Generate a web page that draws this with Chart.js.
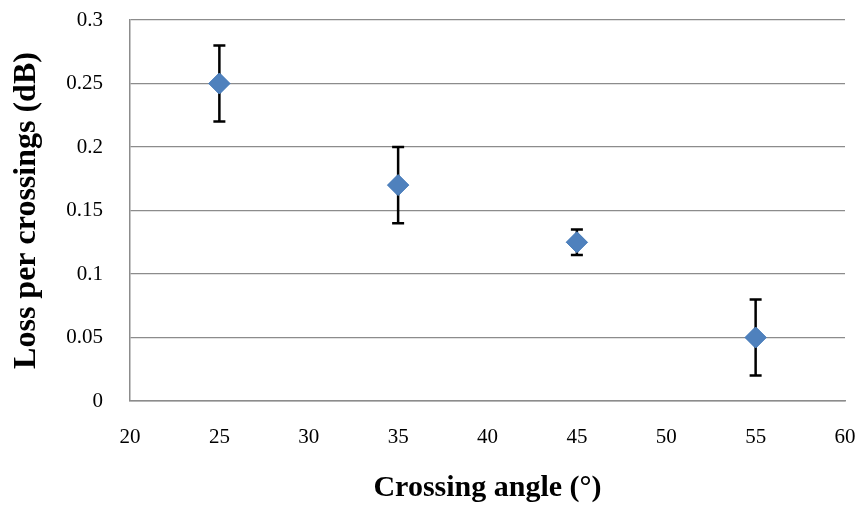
<!DOCTYPE html>
<html>
<head>
<meta charset="utf-8">
<script src="https://cdn.jsdelivr.net/npm/chart.js@4/dist/chart.umd.min.js"></script>
<style>
  html, body { margin: 0; padding: 0; background: #fff; }
  #wrap { width: 861px; height: 506px; }
</style>
</head>
<body>
<div id="wrap"><canvas id="chart"></canvas></div>
<script>
// crossing angle (deg) and loss per crossing (dB)
const angles = [25, 35, 45, 55];
const loss = [0.25, 0.17, 0.125, 0.05];
const errLow = [0.22, 0.14, 0.115, 0.02];
const errHigh = [0.28, 0.20, 0.135, 0.08];

// error bars drawn from the arrays through the chart scales
const errorBars = {
    id: 'errorBars',
    afterDatasetsDraw(chart) {
        const ctx = chart.ctx;
        const xs = chart.scales.x, ys = chart.scales.y;
        ctx.save();
        ctx.strokeStyle = '#000';
        ctx.lineWidth = 2.5;
        for (let i = 0; i < angles.length; i++) {
            const x = xs.getPixelForValue(angles[i]);
            const y1 = ys.getPixelForValue(errLow[i]);
            const y2 = ys.getPixelForValue(errHigh[i]);
            ctx.beginPath();
            ctx.moveTo(x, y1); ctx.lineTo(x, y2);
            ctx.moveTo(x - 6, y1); ctx.lineTo(x + 6, y1);
            ctx.moveTo(x - 6, y2); ctx.lineTo(x + 6, y2);
            ctx.stroke();
        }
        ctx.restore();
        // redraw the points on top of the bars
        chart.getDatasetMeta(0).controller.draw();
    }
};

const serif = "'Liberation Serif', 'Times New Roman', serif";

new Chart(document.getElementById('chart'), {
    type: 'scatter',
    data: {
        datasets: [{
            data: angles.map((a, i) => ({ x: a, y: loss[i] })),
            pointStyle: 'rectRot',
            pointRadius: 10.5,
            pointHoverRadius: 10.5,
            backgroundColor: '#4F81BD',
            borderColor: '#4F81BD',
            borderWidth: 1
        }]
    },
    options: {
        responsive: true,
        maintainAspectRatio: false,
        animation: false,
        layout: { padding: { left: 0, right: 16, top: 20, bottom: 0 } },
        plugins: { legend: { display: false }, tooltip: { enabled: false } },
        scales: {
            x: {
                type: 'linear',
                min: 20, max: 60,
                ticks: { stepSize: 5, padding: 24, color: '#000', font: { family: serif, size: 21 } },
                grid: { display: false, drawTicks: false },
                border: { color: '#8c8c8c', width: 1.5 },
                title: {
                    display: true, text: 'Crossing angle (°)', color: '#000',
                    font: { family: serif, size: 30, weight: 'bold' },
                    padding: { top: 0, bottom: 0 }
                },
                afterFit(scale) {
                    scale.height = 105;
                    scale.paddingLeft = 0;
                    scale.paddingRight = 0;
                }
            },
            y: {
                min: 0, max: 0.3,
                ticks: { stepSize: 0.05, padding: 27, color: '#000', font: { family: serif, size: 21 },
                    callback: v => String(Math.round(v * 100) / 100) },
                grid: { color: '#8c8c8c', lineWidth: 1.3, drawTicks: false },
                border: { color: '#8c8c8c', width: 1.5 },
                title: {
                    display: true, text: 'Loss per crossings (dB)', color: '#000',
                    font: { family: serif, size: 32, weight: 'bold' },
                    padding: { top: 8, bottom: 0 }
                },
                afterFit(scale) {
                    scale.width = 130;
                    scale.paddingTop = 0;
                    scale.paddingBottom = 0;
                }
            }
        }
    },
    plugins: [errorBars]
});
</script>
</body>
</html>
